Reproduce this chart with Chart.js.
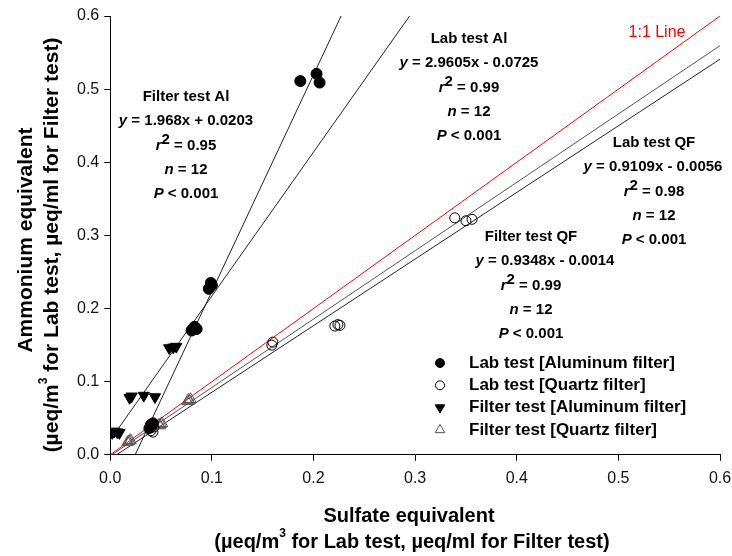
<!DOCTYPE html>
<html>
<head>
<meta charset="utf-8">
<script src="https://cdn.jsdelivr.net/npm/chart.js@4.4.1/dist/chart.umd.min.js"></script>
<style>
    html, body { margin: 0; padding: 0; background: #fff; }
</style>
</head>
<body>
<canvas id="chart" width="732" height="556"></canvas>
<script>
// Lab test, aluminum filter (filled circles)
const labAlX = [0.039, 0.040, 0.042, 0.080, 0.083, 0.085, 0.097, 0.099, 0.100, 0.187, 0.203, 0.206];
const labAlY = [0.037, 0.041, 0.043, 0.170, 0.175, 0.172, 0.227, 0.235, 0.232, 0.511, 0.521, 0.509];

// Lab test, quartz filter (open circles)
const labQfX = [0.038, 0.040, 0.042, 0.043, 0.159, 0.160, 0.221, 0.224, 0.226, 0.339, 0.350, 0.356];
const labQfY = [0.036, 0.033, 0.031, 0.038, 0.150, 0.154, 0.176, 0.178, 0.177, 0.324, 0.320, 0.322];

// Filter test, aluminum filter (filled down triangles)
const filterAlX = [0.002, 0.004, 0.007, 0.009, 0.019, 0.021, 0.033, 0.044, 0.058, 0.062, 0.065, 0.082];
const filterAlY = [0.030, 0.032, 0.031, 0.030, 0.078, 0.080, 0.081, 0.079, 0.146, 0.147, 0.148, 0.172];

// Filter test, quartz filter (open up triangles)
const filterQfX = [0.017, 0.019, 0.020, 0.048, 0.050, 0.051, 0.076, 0.078, 0.079, 0.018, 0.049, 0.077];
const filterQfY = [0.017, 0.019, 0.020, 0.041, 0.042, 0.043, 0.073, 0.074, 0.076, 0.018, 0.040, 0.075];

// regression fits printed on the chart
const fitNames = ['Lab test Al', 'Lab test QF', 'Filter test Al', 'Filter test QF'];
const fitSlopes = [2.9605, 0.9109, 1.968, 0.9348];
const fitIntercepts = [-0.0725, -0.0056, 0.0203, -0.0014];
const fitR2 = ['0.99', '0.98', '0.95', '0.99'];
const fitN = [12, 12, 12, 12];
const fitP = ['0.001', '0.001', '0.001', '0.001'];

// 1:1 reference line
const unityX = [0, 0.6];
const unityY = [0, 0.6];

const tickLabels = ['0.0', '0.1', '0.2', '0.3', '0.4', '0.5', '0.6'];
const legendLabels = [
    'Lab test [Aluminum filter]',
    'Lab test [Quartz filter]',
    'Filter test [Aluminum filter]',
    'Filter test [Quartz filter]'
];

const FONT = '"Liberation Sans", Arial, sans-serif';
const X_MIN = 0, X_MAX = 0.6;

function toPoints(xs, ys) {
    return xs.map((x, i) => ({ x, y: ys[i] }));
}

function fitLine(i) {
    return [X_MIN, X_MAX].map(x => ({ x, y: fitSlopes[i] * x + fitIntercepts[i] }));
}

function eqText(i) {
    const b = fitIntercepts[i];
    return ' = ' + fitSlopes[i] + 'x ' + (b < 0 ? '- ' : '+ ') + Math.abs(b);
}

/**
 * Draw a line of mixed-style text centered on cx.
 * parts: [text, style] with style 'b' bold, 'i' bold italic, 's' superscript
 */
function drawRich(ctx, parts, cx, cy, size, supSize, supRise) {
    const fontFor = st => {
        if (st === 'i') return `italic bold ${size}px ${FONT}`;
        if (st === 's') return `bold ${supSize}px ${FONT}`;
        return `bold ${size}px ${FONT}`;
    };
    let w = 0;
    parts.forEach(([t, st]) => {
        ctx.font = fontFor(st);
        w += ctx.measureText(t).width;
    });
    let x = cx - w / 2;
    parts.forEach(([t, st]) => {
        ctx.font = fontFor(st);
        ctx.fillText(t, x, st === 's' ? cy - supRise : cy);
        x += ctx.measureText(t).width;
    });
}

// where each fit's text block goes: [center x, first line y, equation x]
const blockPos = [
    [469, 39, 469],
    [654, 143, 653],
    [186, 97, 186],
    [531, 237, 545]
];

const annotations = {
    id: 'annotations',
    afterDraw(chart) {
        const ctx = chart.ctx;
        ctx.save();
        ctx.fillStyle = '#000';
        ctx.textBaseline = 'middle';
        ctx.textAlign = 'left';

        fitNames.forEach((name, i) => {
            const [cx, y0, ex] = blockPos[i];
            const step = 24.3;
            drawRich(ctx, [[name, 'b']], cx, y0, 15);
            drawRich(ctx, [['y', 'i'], [eqText(i), 'b']], ex, y0 + step, 15);
            drawRich(ctx, [['r', 'i'], ['2', 's'], [' = ' + fitR2[i], 'b']], cx, y0 + step * 2, 15, 15, 6);
            drawRich(ctx, [['n', 'i'], [' = ' + fitN[i], 'b']], cx, y0 + step * 3, 15);
            drawRich(ctx, [['P', 'i'], [' < ' + fitP[i], 'b']], cx, y0 + step * 4, 15);
        });

        // 1:1 line label
        ctx.fillStyle = '#ff0000';
        ctx.font = `16px ${FONT}`;
        ctx.textAlign = 'center';
        ctx.fillText('1:1 Line', 657, 33);

        // axis titles
        ctx.fillStyle = '#000';
        ctx.textAlign = 'left';
        drawRich(ctx, [['Sulfate equivalent', 'b']], 409, 516, 20);
        drawRich(ctx, [['(\u00b5eq/m', 'b'], ['3', 's'], [' for Lab test, \u00b5eq/ml for Filter test)', 'b']], 412, 542, 20, 12, 8);

        ctx.translate(26, 240);
        ctx.rotate(-Math.PI / 2);
        drawRich(ctx, [['Ammonium equivalent', 'b']], 0, 0, 21);
        ctx.setTransform(1, 0, 0, 1, 0, 0);
        ctx.translate(52, 245);
        ctx.rotate(-Math.PI / 2);
        drawRich(ctx, [['(\u00b5eq/m', 'b'], ['3', 's'], [' for Lab test, \u00b5eq/ml for Filter test)', 'b']], 0, 0, 21, 12, 8);
        ctx.restore();

        // legend
        const styles = [
            { pointStyle: 'circle', rotation: 0, radius: 4.5, fill: '#000', stroke: '#000' },
            { pointStyle: 'circle', rotation: 0, radius: 4.5, fill: '#fff', stroke: '#000' },
            { pointStyle: 'triangle', rotation: 180, radius: 5.5, fill: '#000', stroke: '#000' },
            { pointStyle: 'triangle', rotation: 0, radius: 5.5, fill: '#fff', stroke: '#555' }
        ];
        ctx.save();
        legendLabels.forEach((label, i) => {
            const y = 363 + i * 22.3;
            const s = styles[i];
            ctx.fillStyle = s.fill;
            ctx.strokeStyle = s.stroke;
            ctx.lineWidth = 1;
            Chart.helpers.drawPoint(ctx, { pointStyle: s.pointStyle, rotation: s.rotation, radius: s.radius, borderWidth: 1 }, 440, y);
            ctx.fillStyle = '#000';
            ctx.font = `bold 17px ${FONT}`;
            ctx.textAlign = 'left';
            ctx.textBaseline = 'middle';
            ctx.fillText(label, 469, y);
        });
        ctx.restore();
    }
};

const lineStyle = { type: 'line', pointRadius: 0, borderWidth: 1, fill: false, tension: 0 };

new Chart(document.getElementById('chart'), {
    type: 'scatter',
    data: {
        datasets: [
            { label: legendLabels[0], data: toPoints(labAlX, labAlY), pointStyle: 'circle', pointRadius: 5.5,
              backgroundColor: '#000', borderColor: '#000', borderWidth: 1 },
            { label: legendLabels[1], data: toPoints(labQfX, labQfY), pointStyle: 'circle', pointRadius: 5,
              backgroundColor: 'rgba(255,255,255,0)', borderColor: '#000', borderWidth: 1 },
            { label: legendLabels[2], data: toPoints(filterAlX, filterAlY), pointStyle: 'triangle', pointRotation: 180,
              pointRadius: 6.5, backgroundColor: '#000', borderColor: '#000', borderWidth: 1 },
            { label: legendLabels[3], data: toPoints(filterQfX, filterQfY), pointStyle: 'triangle', pointRadius: 6.5,
              backgroundColor: 'rgba(255,255,255,0)', borderColor: '#555', borderWidth: 1 },
            { ...lineStyle, label: '1:1', data: toPoints(unityX, unityY), borderColor: '#ff0000' },
            ...fitNames.map((name, i) => ({ ...lineStyle, label: name, data: fitLine(i), borderColor: i === 3 ? '#555' : '#222' }))
        ]
    },
    options: {
        responsive: false,
        animation: false,
        layout: { padding: { left: 72, right: 12, top: 16, bottom: 60 } },
        plugins: {
            legend: { display: false },
            tooltip: { enabled: false }
        },
        scales: {
            x: {
                type: 'linear',
                min: X_MIN,
                max: X_MAX,
                afterFit: scale => { scale.paddingRight = 0; },
                ticks: {
                    stepSize: 0.1,
                    padding: 8,
                    color: '#111',
                    font: { family: FONT, size: 16 },
                    callback: (v, i) => tickLabels[i]
                },
                grid: { drawOnChartArea: false, drawTicks: true, tickLength: 6, color: '#000' },
                border: { display: true, color: '#000', width: 1 }
            },
            y: {
                type: 'linear',
                min: 0,
                max: 0.6,
                ticks: {
                    stepSize: 0.1,
                    padding: 5,
                    color: '#111',
                    font: { family: FONT, size: 16 },
                    callback: (v, i) => tickLabels[i]
                },
                grid: { drawOnChartArea: false, drawTicks: true, tickLength: 6, color: '#000' },
                border: { display: true, color: '#000', width: 1 }
            }
        }
    },
    plugins: [annotations]
});
</script>
</body>
</html>
